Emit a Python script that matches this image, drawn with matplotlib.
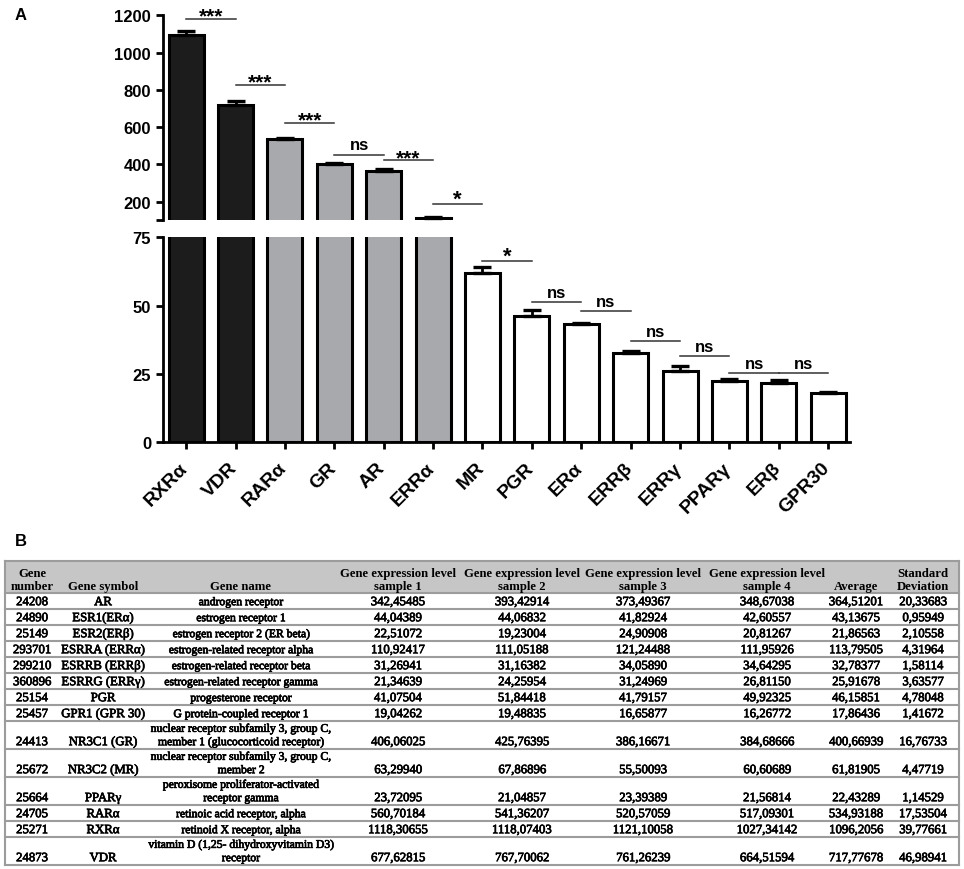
import numpy as np
import matplotlib
matplotlib.use('Agg')
import matplotlib.pyplot as plt
import matplotlib.transforms as mtransforms
import matplotlib.patheffects as pe

# ---- panel A data: mean of 4 samples and SD, in plot order ----
receptors = ['RXRα', 'VDR', 'RARα', 'GR', 'AR', 'ERRα', 'MR', 'PGR',
             'ERα', 'ERRβ', 'ERRγ', 'PPARγ', 'ERβ', 'GPR30']
means = [1096.2056, 717.77678, 534.93188, 400.66939, 364.51201, 113.79505,
         61.81905, 46.15851, 43.13675, 32.78377, 25.91678, 22.43289,
         21.86563, 17.86436]
sds = [39.77661, 46.98941, 17.53504, 16.76733, 20.33683, 4.31964, 4.47719,
       4.78048, 0.95949, 1.58114, 3.63577, 1.14529, 2.10558, 1.41672]
n_samples = 4
bar_colors = ['#1c1c1c'] * 2 + ['#a8a9ad'] * 4 + ['white'] * 8

# significance between neighbouring bars (i, i+1): label and bracket height
sig_labels = ['***', '***', '***', 'ns', '***', '*',
              '*', 'ns', 'ns', 'ns', 'ns', 'ns', 'ns']
sig_heights = [1182, 827, 622, 453, 423, 186,
               66.2, 51.2, 47.9, 37.0, 31.5, 25.2, 25.2]

# ---- panel B table ----
gene_numbers = ['24208', '24890', '25149', '293701', '299210', '360896', '25154',
                '25457', '24413', '25672', '25664', '24705', '25271', '24873']
gene_symbols = ['AR', 'ESR1(ERα)', 'ESR2(ERβ)', 'ESRRA (ERRα)', 'ESRRB (ERRβ)',
                'ESRRG (ERRγ)', 'PGR', 'GPR1 (GPR 30)', 'NR3C1 (GR)', 'NR3C2 (MR)',
                'PPARγ', 'RARα', 'RXRα', 'VDR']
gene_names = ['androgen receptor', 'estrogen receptor 1',
              'estrogen receptor 2 (ER beta)', 'estrogen-related receptor alpha',
              'estrogen-related receptor beta', 'estrogen-related receptor gamma',
              'progesterone receptor', 'G protein-coupled receptor 1',
              'nuclear receptor subfamily 3, group C,\nmember 1 (glucocorticoid receptor)',
              'nuclear receptor subfamily 3, group C,\nmember 2',
              'peroxisome proliferator-activated\nreceptor gamma',
              'retinoic acid receptor, alpha', 'retinoid X receptor, alpha',
              'vitamin D (1,25- dihydroxyvitamin D3)\nreceptor']
sample1 = ['342,45485', '44,04389', '22,51072', '110,92417', '31,26941', '21,34639',
           '41,07504', '19,04262', '406,06025', '63,29940', '23,72095', '560,70184',
           '1118,30655', '677,62815']
sample2 = ['393,42914', '44,06832', '19,23004', '111,05188', '31,16382', '24,25954',
           '51,84418', '19,48835', '425,76395', '67,86896', '21,04857', '541,36207',
           '1118,07403', '767,70062']
sample3 = ['373,49367', '41,82924', '24,90908', '121,24488', '34,05890', '31,24969',
           '41,79157', '16,65877', '386,16671', '55,50093', '23,39389', '520,57059',
           '1121,10058', '761,26239']
sample4 = ['348,67038', '42,60557', '20,81267', '111,95926', '34,64295', '26,81150',
           '49,92325', '16,26772', '384,68666', '60,60689', '21,56814', '517,09301',
           '1027,34142', '664,51594']
average = ['364,51201', '43,13675', '21,86563', '113,79505', '32,78377', '25,91678',
           '46,15851', '17,86436', '400,66939', '61,81905', '22,43289', '534,93188',
           '1096,2056', '717,77678']
std_dev = ['20,33683', '0,95949', '2,10558', '4,31964', '1,58114', '3,63577',
           '4,78048', '1,41672', '16,76733', '4,47719', '1,14529', '17,53504',
           '39,77661', '46,98941']
headers = ['Gene\nnumber', 'Gene symbol', 'Gene name',
           'Gene expression level\nsample 1', 'Gene expression level\nsample 2',
           'Gene expression level\nsample 3', 'Gene expression level\nsample 4',
           'Average', 'Standard\nDeviation']

sans = ['Liberation Sans', 'DejaVu Sans']
serif = ['Liberation Serif', 'DejaVu Serif']

fig = plt.figure(figsize=(9.64, 8.7), dpi=100)

x = np.arange(len(receptors))
sem = np.array(sds) / np.sqrt(n_samples)

ax_top = fig.add_axes([0.169, 0.7456, 0.7127, 0.2356])
ax_bot = fig.add_axes([0.169, 0.4905, 0.7127, 0.2356])

for ax in (ax_top, ax_bot):
    ax.bar(x, means, width=0.71, color=bar_colors, edgecolor='black', linewidth=2.2)
    ax.errorbar(x, means, yerr=[np.zeros_like(sem), sem], fmt='none', ecolor='black',
                elinewidth=2, capsize=6.5, capthick=2.4)
    ax.set_xlim(-0.47, 13.44)
    for s in ('top', 'right'):
        ax.spines[s].set_visible(False)
    ax.spines['left'].set_linewidth(2)
    ax.spines['bottom'].set_linewidth(2)
    ax.tick_params(direction='out', length=5, width=2, labelsize=12)

ax_top.set_ylim(100, 1200)
ax_top.set_yticks([100, 200, 400, 600, 800, 1000, 1200])
ax_top.set_yticklabels(['', '200', '400', '600', '800', '1000', '1200'],
                       fontweight='bold', family=sans, fontsize=12)
ax_top.spines['bottom'].set_visible(False)
ax_top.set_xticks([])

ax_bot.set_ylim(0, 75)
ax_bot.set_yticks([0, 25, 50, 75])
ax_bot.set_yticklabels(['0', '25', '50', '75'], fontweight='bold', family=sans, fontsize=12)
ax_bot.set_xticks(x)
ax_bot.set_xticklabels(receptors, rotation=45, ha='right', fontweight='bold',
                       family=sans, fontsize=14)
ax_bot.tick_params(axis='x', pad=7)
shift = mtransforms.ScaledTranslation(5 / 100, 0, fig.dpi_scale_trans)
for lab in ax_bot.get_xticklabels():
    lab.set_transform(lab.get_transform() + shift)

# significance brackets
for i, (lab, h) in enumerate(zip(sig_labels, sig_heights)):
    ax = ax_top if h > 100 else ax_bot
    ax.plot([x[i], x[i + 1]], [h, h], color='#333333', lw=1.1, clip_on=False)
    if lab == 'ns':
        fs, dy = 12, 4
    elif lab == '*':
        fs, dy = 16, 0
    else:
        fs, dy = 15, -2
    ax.annotate(lab, xy=((x[i] + x[i + 1]) / 2, h), xytext=(0, dy),
                textcoords='offset points', ha='center', va='baseline',
                fontsize=fs, fontweight='bold', family=sans, annotation_clip=False)

fig.text(15 / 964, 1 - 16 / 870, 'A', fontsize=12, fontweight='bold', family=sans,
         va='center', ha='left')
fig.text(15 / 964, 1 - 541 / 870, 'B', fontsize=12, fontweight='bold', family=sans,
         va='center', ha='left')

# ---- table (axes in pixel units) ----
tab = fig.add_axes([0, 0, 1, 1], zorder=-1)
tab.set_xlim(0, 964)
tab.set_ylim(870, 0)
tab.axis('off')

col_x = [32, 103, 241, 398, 522, 643, 767, 856, 923]
col_fs = [9.2, 9.2, 8.4, 9.2, 9.2, 9.2, 9.2, 9.2, 9.2]
left, right, top = 5, 959, 562
header_h, row_h, extra_line = 32, 16, 12
line_col = '#9c9c9c'
heavy = [pe.withStroke(linewidth=0.5, foreground='black')]

tab.add_patch(plt.Rectangle((left, top), right - left, header_h, facecolor='#c6c6c6',
                            edgecolor='none'))
for cx, txt in zip(col_x, headers):
    tab.text(cx, top + header_h - 1, txt, ha='center', va='bottom', fontsize=9.2,
             fontweight='bold', family=serif, linespacing=1.1)

columns = [gene_numbers, gene_symbols, gene_names, sample1, sample2, sample3,
           sample4, average, std_dev]
y = top + header_h
tab.plot([left, right], [top, top], color=line_col, lw=1.5)
tab.plot([left, right], [y, y], color=line_col, lw=1.5)
for r in range(len(gene_numbers)):
    h = row_h + extra_line * gene_names[r].count('\n')
    y += h
    for cx, fs, col in zip(col_x, col_fs, columns):
        tab.text(cx, y - 0.8, col[r], ha='center', va='bottom', fontsize=fs,
                 family=serif, linespacing=1.15, path_effects=heavy)
    tab.plot([left, right], [y, y], color=line_col, lw=1.5)
tab.plot([left, left], [top, y], color=line_col, lw=1.5)
tab.plot([right, right], [top, y], color=line_col, lw=1.5)

fig.savefig('out.png', dpi=100)
